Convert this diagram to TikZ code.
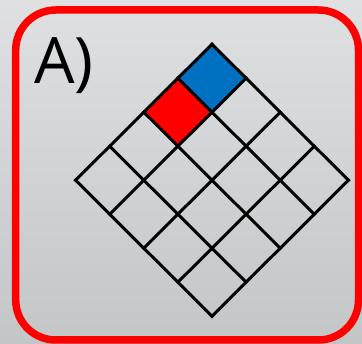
\documentclass[tikz,border=0pt]{standalone}
\usepackage{fontspec}
\setmainfont{Open Sans}
\definecolor{bgtop}{RGB}{222,224,225}
\definecolor{bgbot}{RGB}{195,198,199}
\definecolor{cellblue}{RGB}{0,112,192}
\definecolor{cellred}{RGB}{255,0,0}
\begin{document}
\begin{tikzpicture}[x=1pt,y=-1pt,
  frame/.style={draw=cellred,line width=7.5pt,rounded corners=40pt},
  gridline/.style={draw=black,line width=3pt,line cap=rect},
  label/.style={inner sep=0pt,anchor=base west,font=\fontsize{64}{64}\selectfont}]
\useasboundingbox (0,0) rectangle (362,344);
\shade[top color=bgtop,bottom color=bgbot] (0,0) rectangle (362,344);
\draw[frame] (15.7,10) rectangle (358.5,340);
\node[label] (lab) at (34,83.3) {A)};
\begin{scope}[shift={(212,44.2)},x={(34.1pt,-34pt)},y={(-34.1pt,-34pt)}]
  \fill[cellblue] (0,0) -- (1,0) -- (1,1) -- (0,1) -- cycle;
  \fill[cellred] (0,1) -- (1,1) -- (1,2) -- (0,2) -- cycle;
  \foreach \i in {0,...,4}{
    \draw[gridline] (\i,0) -- (\i,4);
    \draw[gridline] (0,\i) -- (4,\i);
  }
\end{scope}
\end{tikzpicture}
\end{document}
